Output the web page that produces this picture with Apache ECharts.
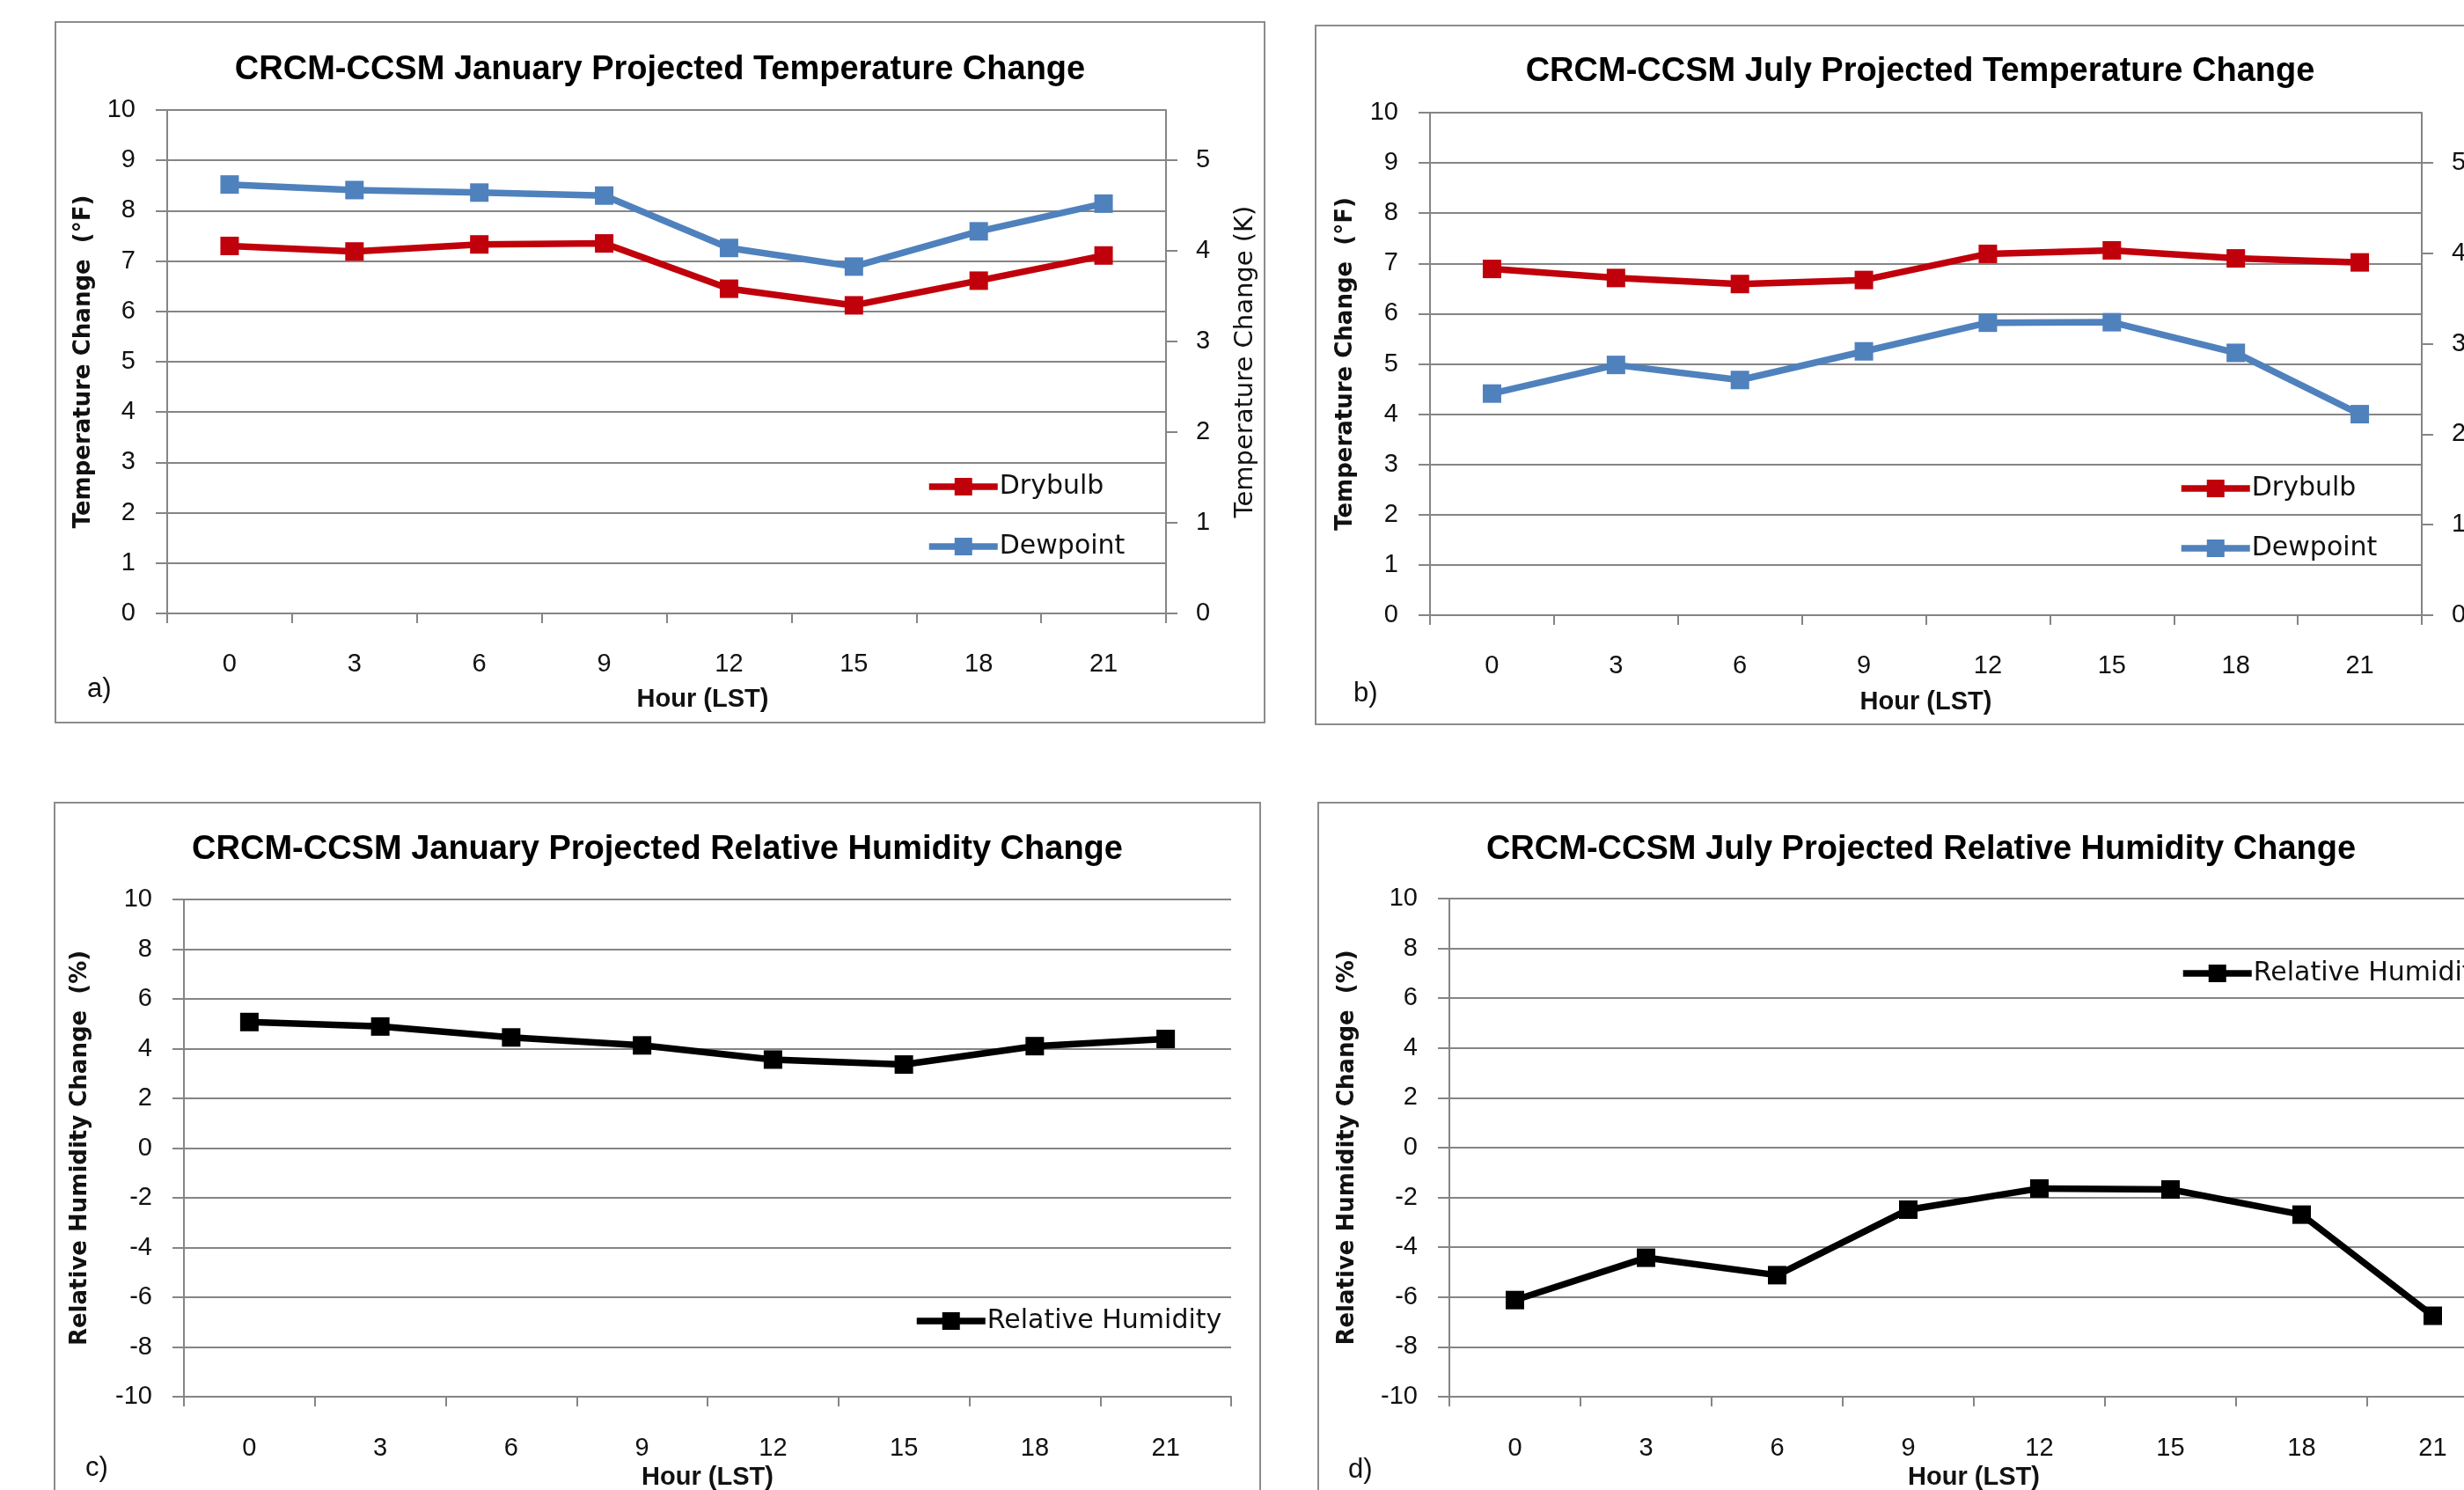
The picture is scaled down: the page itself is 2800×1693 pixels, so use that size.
<!DOCTYPE html>
<html><head><meta charset="utf-8">
<script src="https://cdn.jsdelivr.net/npm/echarts@6/dist/echarts.min.js"></script>
<style>html,body{margin:0;padding:0;background:#fff}#c{width:2800px;height:1693px}</style>
</head><body><div id="c"></div>
<script>
// ---- data ----
const hours = ['0', '3', '6', '9', '12', '15', '18', '21'];
const janDrybulb = [7.30, 7.19, 7.33, 7.35, 6.45, 6.12, 6.61, 7.11];
const janDewpoint = [8.52, 8.41, 8.36, 8.30, 7.26, 6.89, 7.59, 8.14];
const julDrybulb = [6.89, 6.71, 6.59, 6.67, 7.19, 7.26, 7.10, 7.02];
const julDewpoint = [4.41, 4.98, 4.68, 5.25, 5.82, 5.83, 5.22, 4.00];
const janRH = [5.07, 4.89, 4.45, 4.13, 3.56, 3.36, 4.10, 4.39];
const julRH = [-6.12, -4.42, -5.12, -2.49, -1.64, -1.68, -2.69, -6.75];
const kelvinTicks = [0, 1, 2, 3, 4, 5];
const titles = [
  'CRCM-CCSM January Projected Temperature Change',
  'CRCM-CCSM July Projected Temperature Change',
  'CRCM-CCSM January Projected Relative Humidity Change',
  'CRCM-CCSM July Projected Relative Humidity Change'
];
const panelLetters = ['a)', 'b)', 'c)', 'd)'];

// ---- styles ----
const GRAY = '#858585';
const NUM = '"Liberation Sans", Arial, sans-serif';
const VER = '"DejaVu Sans", Verdana, sans-serif';
const RED = '#C0000B';
const BLUE = '#4F81BD';
const BLACK = '#000000';

const grids = [
  {left: 190, top: 125, width: 1135, height: 572},
  {left: 1625, top: 128, width: 1127, height: 571},
  {left: 209, top: 1022, width: 1190, height: 565},
  {left: 1647, top: 1021, width: 1192, height: 566}
].map(g => Object.assign({outerBoundsMode: 'none', containLabel: false}, g));

function xAx(i, gap, shift) {
  return {
    type: 'category', gridIndex: i, data: hours, boundaryGap: true,
    axisLine: {show: true, onZero: false, lineStyle: {color: GRAY, width: 2}},
    axisTick: {show: true, length: 11, alignWithLabel: false, lineStyle: {color: GRAY, width: 2}},
    axisLabel: {margin: i < 2 ? 43 : 44, fontSize: 29, fontFamily: NUM, color: '#111'},
    splitLine: {show: false},
    name: 'Hour (LST)', nameLocation: 'middle', nameGap: gap,
    nameTextStyle: {fontSize: 29, fontWeight: 'bold', fontFamily: NUM, color: '#111',
      padding: shift ? [0, 0, 0, shift] : 0}
  };
}
function yLeft(i, min, max, interval, name, gap) {
  return {
    type: 'value', gridIndex: i, position: 'left', min: min, max: max, interval: interval,
    axisLine: {show: true, onZero: false, lineStyle: {color: GRAY, width: 2}},
    axisTick: {show: true, length: 13, lineStyle: {color: GRAY, width: 2}},
    axisLabel: {margin: 36, fontSize: 29, fontFamily: NUM, color: '#111'},
    splitLine: {show: true, lineStyle: {color: GRAY, width: 2}},
    name: name, nameLocation: 'middle', nameRotate: 90, nameGap: gap,
    nameTextStyle: {fontSize: 26, fontWeight: 'bold', fontFamily: VER, color: '#111'}
  };
}
function yRight(i, withName) {
  const ax = {
    type: 'value', gridIndex: i, position: 'right', min: 0, max: 10 / 1.8, interval: 1,
    axisLine: {show: true, onZero: false, lineStyle: {color: GRAY, width: 2}},
    axisTick: {show: true, length: 13, customValues: kelvinTicks, lineStyle: {color: GRAY, width: 2}},
    axisLabel: {margin: 34, fontSize: 29, fontFamily: NUM, color: '#111', customValues: kelvinTicks},
    splitLine: {show: false}
  };
  if (withName) {
    ax.name = 'Temperature Change (K)';
    ax.nameLocation = 'middle'; ax.nameRotate = 90; ax.nameGap = 76;
    ax.nameTextStyle = {fontSize: 29, fontFamily: VER, color: '#111'};
  }
  return ax;
}
function line(name, data, color, xi, yi) {
  return {
    type: 'line', name: name, data: data, xAxisIndex: xi, yAxisIndex: yi,
    symbol: 'rect', symbolSize: 21, showSymbol: true,
    lineStyle: {color: color, width: 7.5}, itemStyle: {color: color},
    animation: false, z: 5
  };
}
function legend(names, left, top) {
  return {
    data: names, orient: 'vertical', left: left, top: top, padding: 0,
    itemWidth: 78, itemHeight: 25, itemGap: 38,
    lineStyle: {width: 7.5},
    textStyle: {fontSize: 30, fontFamily: VER, color: '#111', padding: [0, 0, 0, -3], lineHeight: 28},
    selectedMode: false
  };
}

const boxes = [
  {x: 63, y: 25, width: 1374, height: 796},
  {x: 1495, y: 29, width: 1375, height: 794},
  {x: 62, y: 912, width: 1370, height: 820},
  {x: 1498, y: 912, width: 1400, height: 820}
];
const titlePos = [[750, 80], [2182, 82], [747, 966], [2183, 966]];
const letterPos = [[99, 783], [1538, 788], [97, 1668], [1532, 1670]];

const graphic = [];
boxes.forEach(b => graphic.push({type: 'rect', silent: true, z: 0, shape: b,
  style: {fill: 'none', stroke: '#8c8c8c', lineWidth: 2}}));
titles.forEach((t, i) => graphic.push({type: 'text', silent: true, x: titlePos[i][0], y: titlePos[i][1],
  style: {text: t, fontSize: 38, fontWeight: 'bold', fontFamily: NUM, fill: '#000', align: 'center', verticalAlign: 'middle'}}));
panelLetters.forEach((t, i) => graphic.push({type: 'text', silent: true, x: letterPos[i][0], y: letterPos[i][1],
  style: {text: t, fontSize: 31, fontFamily: NUM, fill: '#111', align: 'left', verticalAlign: 'middle'}}));

const option = {
  backgroundColor: '#ffffff',
  animation: false,
  grid: grids,
  xAxis: [xAx(0, 83, 82), xAx(1, 84, 0), xAx(2, 77, 0), xAx(3, 77, 0)],
  yAxis: [
    yLeft(0, 0, 10, 1, 'Temperature Change  (°F)', 82),
    yRight(0, true),
    yLeft(1, 0, 10, 1, 'Temperature Change  (°F)', 83),
    yRight(1, false),
    yLeft(2, -10, 10, 2, 'Relative Humidity Change  (%)', 105),
    yLeft(3, -10, 10, 2, 'Relative Humidity Change  (%)', 103)
  ],
  legend: [
    legend(['Drybulb', 'Dewpoint'], 1052, 538),
    legend(['Drybulb', 'Dewpoint'], 2475, 540),
    legend(['Relative Humidity'], 1038, 1486),
    legend(['Relative Humidity'], 2477, 1091)
  ],
  series: [
    line('Drybulb', janDrybulb, RED, 0, 0),
    line('Dewpoint', janDewpoint, BLUE, 0, 0),
    line('Drybulb', julDrybulb, RED, 1, 2),
    line('Dewpoint', julDewpoint, BLUE, 1, 2),
    line('Relative Humidity', janRH, BLACK, 2, 4),
    line('Relative Humidity', julRH, BLACK, 3, 5)
  ],
  graphic: graphic
};
const chart = echarts.init(document.getElementById('c'), null, {renderer: 'canvas'});
chart.setOption(option);
</script>
</body></html>
